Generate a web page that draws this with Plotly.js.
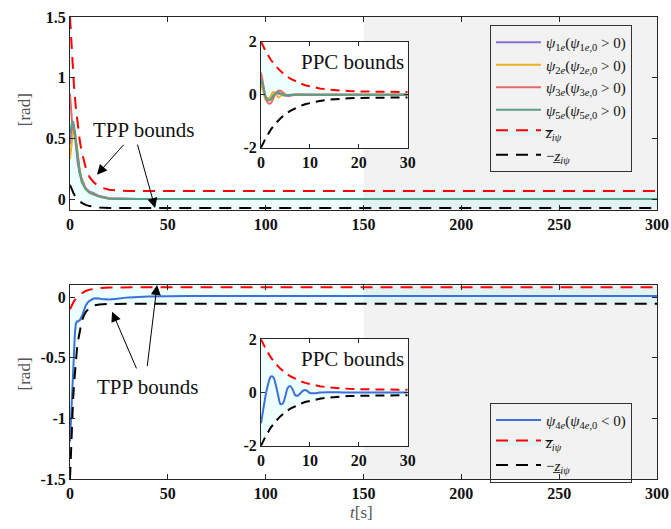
<!DOCTYPE html>
<html>
<head>
<meta charset="utf-8">
<script src="https://cdn.plot.ly/plotly-3.0.1.min.js"></script>
<style>html,body{margin:0;padding:0;background:#fff;}#chart{width:671px;height:529px;}</style>
</head>
<body>
<div id="chart"></div>
<script>
// ---------- data ----------
// top panel: TPP bounds
const tBoundTop = [0,1,2,3,4,5,6,7,8,10,12,15,20,25,30,50,100,150,200,250,300];
const upTop = [1.5,1.18,0.94,0.75,0.59,0.48,0.39,0.32,0.26,0.18,0.14,0.1,0.076,0.069,0.067,0.066,0.066,0.066,0.066,0.066,0.066];
const loTop = [0.116,0.074,0.041,0.016,-0.004,-0.018,-0.031,-0.041,-0.048,-0.058,-0.065,-0.07,-0.073,-0.074,-0.074,-0.074,-0.074,-0.074,-0.074,-0.074,-0.074];
// top panel: errors psi1e, psi2e, psi3e, psi5e
const tTop = [0,0.5,1,1.5,2,2.5,3,3.5,4,5,6,7,8,10,12,14,16,18,20,24,28,35,50,100,150,200,250,300];
const psi1 = [0.45,0.53,0.58,0.6,0.58,0.52,0.44,0.36,0.29,0.21,0.17,0.12,0.09,0.06,0.05,0.03,0.02,0.012,0.006,0.004,0.002,0,0,0,0,0,0,0];
const psi2 = [0.33,0.42,0.5,0.55,0.57,0.56,0.5,0.42,0.35,0.24,0.16,0.12,0.09,0.055,0.04,0.03,0.02,0.01,0.005,0.003,0.001,0,0,0,0,0,0,0];
const psi3 = [0.87,0.74,0.64,0.59,0.56,0.53,0.47,0.4,0.33,0.22,0.15,0.11,0.085,0.055,0.04,0.03,0.02,0.01,0.005,0.003,0.001,0,0,0,0,0,0,0];
const psi5 = [0.54,0.6,0.63,0.64,0.61,0.55,0.47,0.39,0.32,0.21,0.14,0.105,0.08,0.05,0.035,0.025,0.015,0.008,0.003,0.001,0,0,0,0,0,0,0,0];

// bottom panel: TPP bounds
const tBoundBot = [0,0.5,1,1.5,2,2.5,3,3.5,4,5,6,7,8,10,12,15,20,30,50,100,150,200,250,300];
const upBot = [-0.1,-0.081,-0.064,-0.049,-0.035,-0.023,-0.012,-0.002,0.007,0.021,0.033,0.043,0.051,0.062,0.069,0.075,0.08,0.082,0.082,0.082,0.082,0.082,0.082,0.082];
const loBot = [-1.5,-1.25,-1.04,-0.87,-0.73,-0.61,-0.52,-0.44,-0.37,-0.27,-0.2,-0.156,-0.124,-0.087,-0.07,-0.06,-0.056,-0.055,-0.055,-0.055,-0.055,-0.055,-0.055,-0.055];
// bottom panel: psi4e
const tBot = [0,0.5,1,1.5,2,2.5,3,3.5,4,5,6,7,8,9,10,12,14,16,18,20,23,26,30,40,60,100,150,200,250,300];
const psi4 = [-1.19,-1.0,-0.8,-0.62,-0.45,-0.3,-0.22,-0.2,-0.2,-0.19,-0.16,-0.11,-0.07,-0.045,-0.03,-0.012,-0.01,-0.015,-0.02,-0.02,-0.015,-0.008,-0.002,0.005,0.01,0.01,0.01,0.01,0.01,0.01];

// insets: PPC bounds
const tBoundIn = [0,1,2,3,4,5,6,7,8,9,10,12,14,16,18,20,22,25,30];
const upIn = [2.0,1.625,1.32,1.08,0.89,0.73,0.61,0.51,0.43,0.36,0.31,0.235,0.187,0.156,0.136,0.123,0.115,0.108,0.103];
const loIn = [-2.0,-1.625,-1.32,-1.08,-0.89,-0.73,-0.61,-0.51,-0.43,-0.36,-0.31,-0.235,-0.187,-0.156,-0.136,-0.123,-0.115,-0.108,-0.103];
// top inset errors
const tIn = [0,0.5,1,1.5,2,2.5,3,3.5,4,4.5,5,5.5,6,7,8,9,10,11,12,14,16,20,25,30];
const psi1In = [0.5,0.2,-0.08,-0.15,-0.12,-0.03,0.04,0.05,0.02,-0.02,-0.03,-0.02,0,0.01,0,0,0,0,0,0,0,0,0,0];
const psi2In = [0.4,0.1,-0.2,-0.18,-0.05,0.1,0.05,-0.1,-0.05,0.05,0.02,-0.03,-0.02,0.01,0,0,0,0,0,0,0,0,0,0];
const psi3In = [0.84,0.35,-0.15,-0.33,-0.32,-0.15,0.05,0.14,0.15,0.08,-0.02,-0.05,-0.04,0,0.01,0,0,0,0,0,0,0,0,0];
const psi5In = [0.59,0.25,-0.1,-0.22,-0.18,-0.05,0.06,0.09,0.05,0,-0.02,-0.02,-0.01,0,0,0,0,0,0,0,0,0,0,0];
// bottom inset error
const tIn4 = [0,0.5,1,1.5,2,2.5,3,3.5,4,4.5,5,5.5,6,6.5,7,7.5,8,8.5,9,9.5,10,11,12,14,17,20,25,30];
const psi4In = [-1.16,-0.6,-0.05,0.35,0.6,0.58,0.3,-0.1,-0.44,-0.4,-0.12,0.18,0.24,0.1,-0.1,-0.12,-0.04,0.05,0.09,0.05,-0.02,-0.03,0,0.01,0,0,0,0];

// tick labels
const xTicksMain = [0,50,100,150,200,250,300];
const xTickTextMain = ['0','50','100','150','200','250','300'];
const yTicksTop = [0,0.5,1,1.5];
const yTickTextTop = ['0','0.5','1','1.5'];
const yTicksBot = [-1.5,-1,-0.5,0];
const yTickTextBot = ['-1.5','-1','-0.5','0'];
const xTicksIn = [0,10,20,30];
const xTickTextIn = ['0','10','20','30'];
const yTicksIn = [-2,0,2];
const yTickTextIn = ['-2','0','2'];

// legend names
const namesTop = [
  '<i>ψ</i><sub>1<i>e</i></sub>(<i>ψ</i><sub>1<i>e</i>,0</sub> &gt; 0)',
  '<i>ψ</i><sub>2<i>e</i></sub>(<i>ψ</i><sub>2<i>e</i>,0</sub> &gt; 0)',
  '<i>ψ</i><sub>3<i>e</i></sub>(<i>ψ</i><sub>3<i>e</i>,0</sub> &gt; 0)',
  '<i>ψ</i><sub>5<i>e</i></sub>(<i>ψ</i><sub>5<i>e</i>,0</sub> &gt; 0)'
];
const nameBot = '<i>ψ</i><sub>4<i>e</i></sub>(<i>ψ</i><sub>4<i>e</i>,0</sub> &lt; 0)';
const nameUp = '<i>z\u0305</i><sub><i>iψ</i></sub>';
const nameLo = '−<i>z\u0332</i><sub><i>iψ</i></sub>';

// ---------- styling ----------
const colPsi = ['#8a6fd4','#edb120','#e8686a','#5a9e88'];
const colBlue = '#3f6fd8';
const fillCyan = 'rgba(0,255,255,0.07)';
const dashMain = '12px,8px';
const dashIn = '9px,6px';
const serif = '"Liberation Serif", "Times New Roman", Times, serif';

const traces = [];
function base(x, y, xa, ya) {
  return {x: x, y: y, xaxis: xa, yaxis: ya, mode: 'lines', line: {width: 0, color: 'rgba(0,0,0,0)'}, showlegend: false, hoverinfo: 'skip'};
}
// top main
traces.push(base(tBoundTop, loTop, 'x', 'y'));
traces.push({x: tBoundTop, y: upTop, xaxis: 'x', yaxis: 'y', mode: 'lines', fill: 'tonexty', fillcolor: fillCyan,
  line: {color: '#ff0000', width: 2, dash: dashMain}, name: nameUp, legend: 'legend', legendrank: 5});
[psi1, psi2, psi3, psi5].forEach((s, i) => traces.push({x: tTop, y: s, xaxis: 'x', yaxis: 'y', mode: 'lines',
  line: {color: colPsi[i], width: 2}, name: namesTop[i], legend: 'legend', legendrank: i + 1}));
traces.push({x: tBoundTop, y: loTop, xaxis: 'x', yaxis: 'y', mode: 'lines',
  line: {color: '#000', width: 2, dash: dashMain}, name: nameLo, legend: 'legend', legendrank: 6});
// bottom main
traces.push(base(tBoundBot, loBot, 'x2', 'y2'));
traces.push({x: tBoundBot, y: upBot, xaxis: 'x2', yaxis: 'y2', mode: 'lines', fill: 'tonexty', fillcolor: fillCyan,
  line: {color: '#ff0000', width: 2, dash: dashMain}, name: nameUp, legend: 'legend2', legendrank: 2});
traces.push({x: tBot, y: psi4, xaxis: 'x2', yaxis: 'y2', mode: 'lines',
  line: {color: colBlue, width: 2}, name: nameBot, legend: 'legend2', legendrank: 1});
traces.push({x: tBoundBot, y: loBot, xaxis: 'x2', yaxis: 'y2', mode: 'lines',
  line: {color: '#000', width: 2, dash: dashMain}, name: nameLo, legend: 'legend2', legendrank: 3});
// top inset
traces.push(base(tIn, psi5In, 'x3', 'y3'));
traces.push({x: tBoundIn, y: upIn, xaxis: 'x3', yaxis: 'y3', mode: 'lines', fill: 'tonexty', fillcolor: fillCyan,
  line: {color: '#ff0000', width: 2, dash: dashIn}, showlegend: false});
traces.push({x: tBoundIn, y: loIn, xaxis: 'x3', yaxis: 'y3', mode: 'lines',
  line: {color: '#000', width: 2, dash: dashIn}, showlegend: false});
[psi1In, psi2In, psi3In, psi5In].forEach((s, i) => traces.push({x: tIn, y: s, xaxis: 'x3', yaxis: 'y3', mode: 'lines',
  line: {color: colPsi[i], width: 2, shape: 'spline', smoothing: 1}, showlegend: false}));
// bottom inset
traces.push(base(tBoundIn, loIn, 'x4', 'y4'));
traces.push({x: tBoundIn, y: upIn, xaxis: 'x4', yaxis: 'y4', mode: 'lines', fill: 'tonexty', fillcolor: fillCyan,
  line: {color: '#ff0000', width: 2, dash: dashIn}, showlegend: false});
traces.push({x: tBoundIn, y: loIn, xaxis: 'x4', yaxis: 'y4', mode: 'lines',
  line: {color: '#000', width: 2, dash: dashIn}, showlegend: false});
traces.push({x: tIn4, y: psi4In, xaxis: 'x4', yaxis: 'y4', mode: 'lines',
  line: {color: colBlue, width: 2, shape: 'spline', smoothing: 1}, showlegend: false});

function ax(extra) {
  return Object.assign({
    showgrid: false, zeroline: false, showline: true, linecolor: '#262626', linewidth: 1,
    mirror: 'ticks', ticks: 'inside', ticklen: 5, tickcolor: '#262626', tickmode: 'array',
    tickfont: {family: serif, size: 16, weight: 'bold', color: '#111'}
  }, extra);
}

const arrowStyle = {showarrow: true, arrowhead: 2, arrowsize: 2, arrowwidth: 1, arrowcolor: '#000', text: '', standoff: 0};
const annFont = {family: serif, size: 21, color: '#111'};
const legFont = {family: serif, size: 15, color: '#111'};

const layout = {
  width: 671, height: 529,
  margin: {l: 70, r: 14, t: 17, b: 50},
  paper_bgcolor: '#fff', plot_bgcolor: '#fff',
  font: {family: serif},
  showlegend: true,
  xaxis: ax({domain: [0, 1], anchor: 'y', range: [0, 300], tickvals: xTicksMain, ticktext: xTickTextMain}),
  yaxis: ax({domain: [0.5823, 1], anchor: 'x', range: [-0.09, 1.5], tickvals: yTicksTop, ticktext: yTickTextTop}),
  xaxis2: ax({domain: [0, 1], anchor: 'y2', range: [0, 300], tickvals: xTicksMain, ticktext: xTickTextMain}),
  yaxis2: ax({domain: [0, 0.4199], anchor: 'x2', range: [-1.5, 0.1], tickvals: yTicksBot, ticktext: yTickTextBot}),
  xaxis3: ax({domain: [0.3254, 0.5753], anchor: 'y3', range: [0, 30], ticklen: 4, tickvals: xTicksIn, ticktext: xTickTextIn}),
  yaxis3: ax({domain: [0.7171, 0.9465], anchor: 'x3', range: [-2, 2], ticklen: 4, tickvals: yTicksIn, ticktext: yTickTextIn}),
  xaxis4: ax({domain: [0.3254, 0.5753], anchor: 'y4', range: [0, 30], ticklen: 4, tickvals: xTicksIn, ticktext: xTickTextIn}),
  yaxis4: ax({domain: [0.0721, 0.3024], anchor: 'x4', range: [-2, 2], ticklen: 4, tickvals: yTicksIn, ticktext: yTickTextIn}),
  legend: {x: 0.7155, y: 0.9827, xanchor: 'left', yanchor: 'top', bgcolor: 'rgba(0,0,0,0)', bordercolor: '#333', borderwidth: 1,
    font: legFont, itemwidth: 45, tracegroupgap: 0, traceorder: 'normal'},
  legend2: {x: 0.7155, y: 0.1652, xanchor: 'left', yanchor: 'top', bgcolor: 'rgba(0,0,0,0)', bordercolor: '#333', borderwidth: 1,
    font: legFont, itemwidth: 45, tracegroupgap: 0, traceorder: 'normal'},
  shapes: [
    {type: 'rect', xref: 'x', yref: 'y domain', x0: 150, x1: 300, y0: 0, y1: 1, fillcolor: '#f2f2f2', line: {width: 0}, layer: 'below'},
    {type: 'rect', xref: 'x2', yref: 'y2 domain', x0: 150, x1: 300, y0: 0, y1: 1, fillcolor: '#f2f2f2', line: {width: 0}, layer: 'below'}
  ],
  annotations: [
    // top TPP
    {xref: 'x', yref: 'y', x: 37.6, y: 0.57, text: 'TPP bounds', showarrow: false, font: annFont},
    Object.assign({xref: 'x', yref: 'y', axref: 'x', ayref: 'y', x: 13.8, y: 0.2, ax: 28.1, ay: 0.46}, arrowStyle),
    Object.assign({xref: 'x', yref: 'y', axref: 'x', ayref: 'y', x: 43.5, y: -0.074, ax: 34.3, ay: 0.46}, arrowStyle),
    // bottom TPP
    {xref: 'x2', yref: 'y2', x: 39.4, y: -0.74, text: 'TPP bounds', showarrow: false, font: annFont},
    Object.assign({xref: 'x2', yref: 'y2', axref: 'x2', ayref: 'y2', x: 21.5, y: -0.12, ax: 34.3, ay: -0.6}, arrowStyle),
    Object.assign({xref: 'x2', yref: 'y2', axref: 'x2', ayref: 'y2', x: 44.5, y: 0.1, ax: 39.4, ay: -0.58}, arrowStyle),
    // PPC bounds in insets
    {xref: 'x3', yref: 'y3', x: 18.8, y: 1.22, text: 'PPC bounds', showarrow: false, font: annFont},
    {xref: 'x4', yref: 'y4', x: 18.8, y: 1.26, text: 'PPC bounds', showarrow: false, font: annFont},
    // axis titles
    {xref: 'paper', yref: 'paper', x: -0.077, y: 0.8, xanchor: 'center', yanchor: 'middle', text: '[rad]', textangle: -90,
      showarrow: false, font: {family: serif, size: 17, color: '#555'}},
    {xref: 'paper', yref: 'paper', x: -0.077, y: 0.228, xanchor: 'center', yanchor: 'middle', text: '[rad]', textangle: -90,
      showarrow: false, font: {family: serif, size: 17, color: '#555'}},
    {xref: 'paper', yref: 'paper', x: 0.497, y: -0.073, xanchor: 'center', yanchor: 'middle', text: '<i>t</i>[s]',
      showarrow: false, font: {family: serif, size: 17, color: '#555'}}
  ]
};

Plotly.newPlot('chart', traces, layout, {displayModeBar: false, responsive: false});
</script>
</body>
</html>
